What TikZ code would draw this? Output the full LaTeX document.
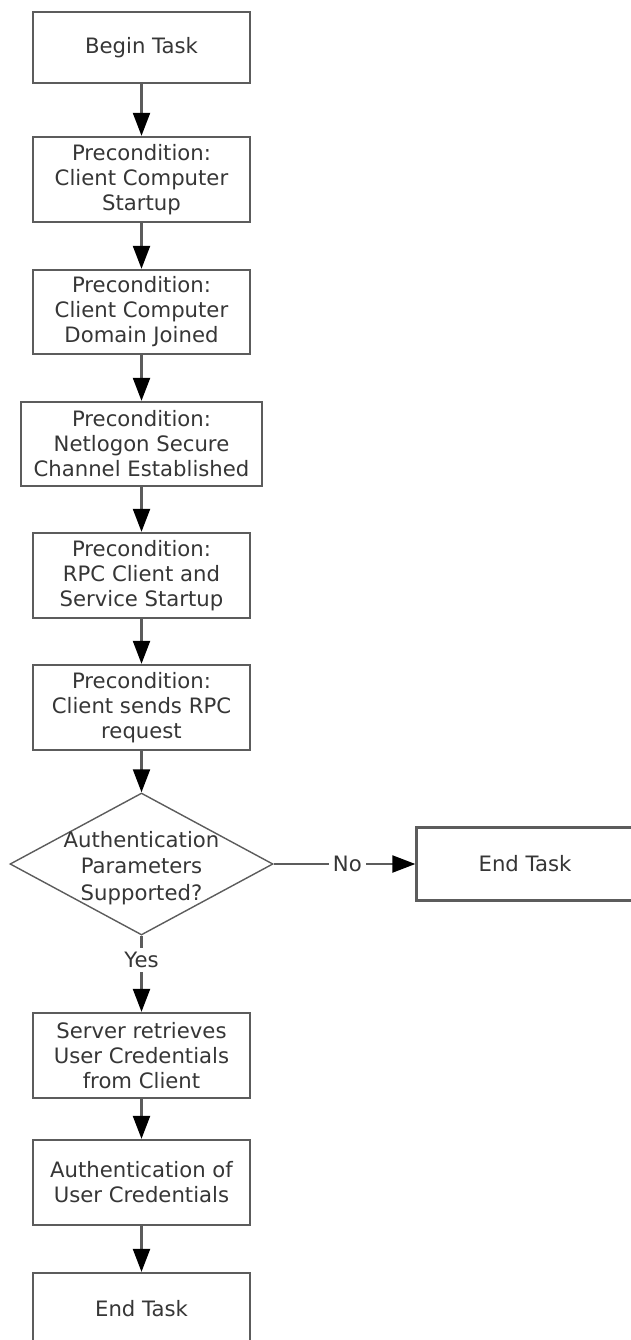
\documentclass[tikz,border=0pt]{standalone}
\usepackage{fontspec}
\setmainfont{DejaVu Sans}
\usetikzlibrary{arrows.meta,shapes.geometric}
\definecolor{bord}{HTML}{5c5c5c}
\definecolor{txt}{HTML}{363636}
\begin{document}
\begin{tikzpicture}[x=1pt,y=-1pt,
  lblfont/.style={font=\fontsize{21.2}{25}\selectfont},
  box/.style={draw=bord, line width=2.3pt, fill=white, minimum width=217pt,
    inner sep=0pt, align=center, text=txt, lblfont},
  arr/.style={draw=bord, line width=2.2pt, -{Triangle[length=23pt,width=17pt,black]}},
  lbl/.style={fill=white, text=txt, inner sep=4pt, lblfont}
]
\useasboundingbox (0,0) rectangle (631,1340);
\clip (0,0) rectangle (631,1340);
\node[box, minimum height=71pt] (begin) at (141.5,47.5) {Begin Task};
\node[box, minimum height=85pt] (c1) at (141.5,179.5) {Precondition:\\Client Computer\\Startup};
\node[box, minimum height=84pt] (c2) at (141.5,312) {Precondition:\\Client Computer\\Domain Joined};
\node[box, minimum height=84pt, minimum width=241pt] (c3) at (141.5,444) {Precondition:\\Netlogon Secure\\Channel Established};
\node[box, minimum height=85pt] (c4) at (141.5,575.5) {Precondition:\\RPC Client and\\Service Startup};
\node[box, minimum height=85pt] (c5) at (141.5,707.5) {Precondition:\\Client sends RPC\\request};
\node[diamond, draw=bord, line width=1.4pt, minimum width=263pt, minimum height=142pt, inner sep=0pt] (dec) at (141.5,864) {};
\node[text=txt, align=center, font=\fontsize{21.2}{26.5}\selectfont] (dectext) at (141.5,868) {Authentication\\Parameters\\Supported?};
\node[box, minimum height=73pt] (endr) at (525,864) {End Task};
\node[box, minimum height=85pt] (s1) at (141.5,1055.5) {Server retrieves\\User Credentials\\from Client};
\node[box, minimum height=85pt] (s2) at (141.5,1182.5) {Authentication of\\User Credentials};
\node[box, minimum height=71pt] (endb) at (141.5,1308.5) {End Task};
\draw[arr] (begin) -- (c1);
\draw[arr] (c1) -- (c2);
\draw[arr] (c2) -- (c3);
\draw[arr] (c3) -- (c4);
\draw[arr] (c4) -- (c5);
\draw[arr] (c5) -- (dec.north);
\draw[arr] (dec.east) -- node[lbl, pos=0.52] {No} (endr.west);
\draw[arr] (dec.south) -- node[lbl, pos=0.32] {Yes} (s1.north);
\draw[arr] (s1) -- (s2);
\draw[arr] (s2) -- (endb);
\end{tikzpicture}
\end{document}
